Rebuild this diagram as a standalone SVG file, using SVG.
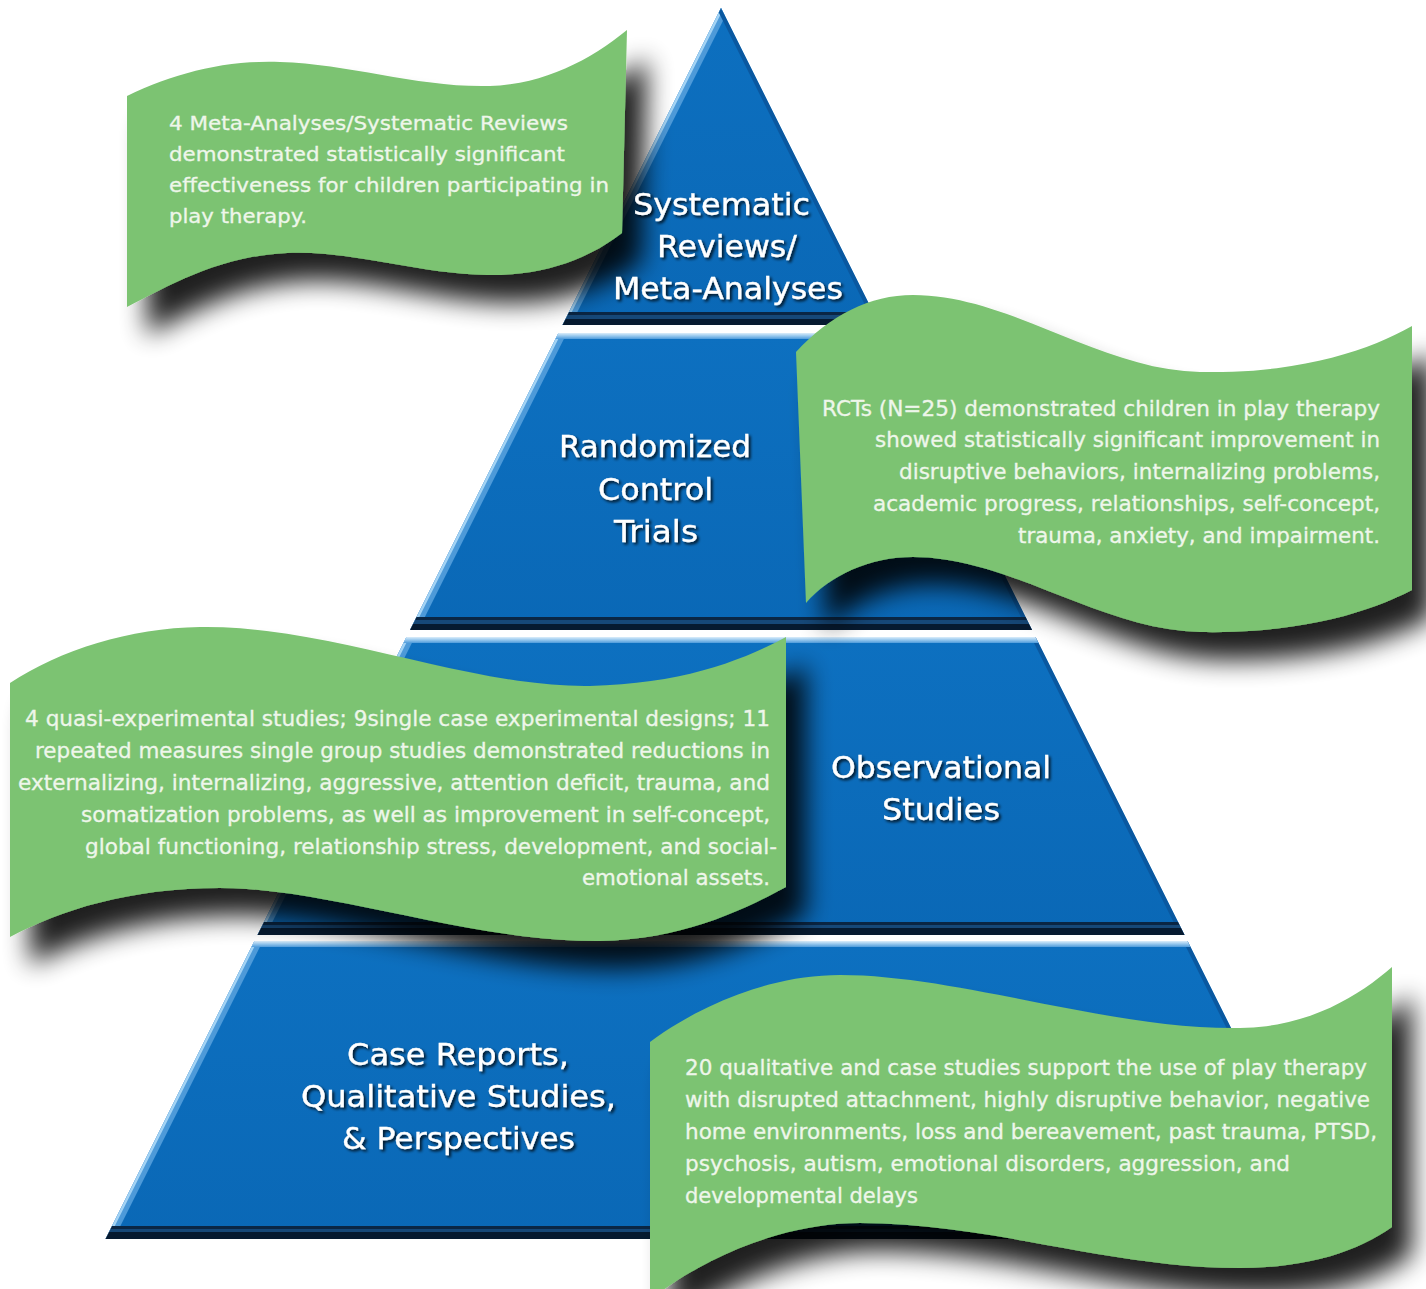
<svg xmlns="http://www.w3.org/2000/svg" xmlns:xlink="http://www.w3.org/1999/xlink" width="1426" height="1289" viewBox="0 0 1426 1289">
<style>
  .btxt { font-family: "DejaVu Sans", Verdana, "Liberation Sans", sans-serif; fill: #eef6ea; stroke: #eef6ea; stroke-width: 0.3; }
  .b1 { font-size: 19px; }
  .b2 { font-size: 20.5px; }
  .b3 { font-size: 20.5px; }
  .b4 { font-size: 20.5px; }
  .lbl { font-family: "DejaVu Sans", Verdana, "Liberation Sans", sans-serif; font-size: 31px; fill: #ffffff; stroke: #ffffff; stroke-width: 0.3; filter: url(#tshadow); }
  .banner { fill: #7cc372; }
</style>
<defs>
  <linearGradient id="blue" x1="0" y1="0" x2="0" y2="1">
    <stop offset="0" stop-color="#0d70c0"/>
    <stop offset="1" stop-color="#0a68b6"/>
  </linearGradient>
  <linearGradient id="botband" x1="0" y1="0" x2="0" y2="1">
    <stop offset="0" stop-color="#0a2644"/>
    <stop offset="0.23" stop-color="#0a2644"/>
    <stop offset="0.23" stop-color="#164878"/>
    <stop offset="0.5" stop-color="#164878"/>
    <stop offset="0.5" stop-color="#061a30"/>
    <stop offset="1" stop-color="#061a30"/>
  </linearGradient>
  <linearGradient id="topband" x1="0" y1="0" x2="0" y2="1">
    <stop offset="0" stop-color="#dcedfa"/>
    <stop offset="0.45" stop-color="#9ccbef"/>
    <stop offset="1" stop-color="#4f9bdb"/>
  </linearGradient>
  <clipPath id="c1"><polygon points="721,8 879.5,325 562.5,325"/></clipPath>
  <clipPath id="c2"><polygon points="558.5,333 883.5,333 1032,630 410,630"/></clipPath>
  <clipPath id="c3"><polygon points="406.5,637 1035.5,637 1184.5,935 257.5,935"/></clipPath>
  <clipPath id="c4"><polygon points="254.5,941 1187.5,941 1336.5,1239 105.5,1239"/></clipPath>
  <g id="edges">
    <line x1="723" y1="4" x2="100" y2="1250" stroke="#4d9ad9" stroke-width="15"/>
    <line x1="723" y1="4" x2="100" y2="1250" stroke="#a3d3f5" stroke-width="5"/>
    <line x1="719" y1="4" x2="1342" y2="1250" stroke="#0a58a0" stroke-width="8"/>
  </g>
  <filter id="ds" x="-20%" y="-30%" width="150%" height="170%">
    <feGaussianBlur in="SourceAlpha" stdDeviation="13"/>
    <feOffset dx="20" dy="28" result="b"/>
    <feComponentTransfer><feFuncA type="linear" slope="0.88"/></feComponentTransfer>
    <feMerge><feMergeNode/><feMergeNode in="SourceGraphic"/></feMerge>
  </filter>
  <filter id="tshadow" x="-10%" y="-30%" width="130%" height="170%">
    <feGaussianBlur in="SourceAlpha" stdDeviation="1.6"/>
    <feOffset dx="2" dy="2"/>
    <feComponentTransfer><feFuncA type="linear" slope="0.85"/></feComponentTransfer>
    <feMerge><feMergeNode/><feMergeNode in="SourceGraphic"/></feMerge>
  </filter>
</defs>
<rect width="1426" height="1289" fill="#ffffff"/>

<g id="pyramid">
  <g id="tier-1">
    <g clip-path="url(#c1)">
      <rect x="0" y="0" width="1426" height="325" fill="url(#blue)"/>
      <use xlink:href="#edges"/>
      <rect x="0" y="312" width="1426" height="13" fill="url(#botband)"/>
    </g>
  </g>
  <g id="tier-2">
    <g clip-path="url(#c2)">
      <rect x="0" y="333" width="1426" height="297" fill="url(#blue)"/>
      <use xlink:href="#edges"/>
      <rect x="0" y="333" width="1426" height="6" fill="url(#topband)"/>
      <rect x="0" y="617" width="1426" height="13" fill="url(#botband)"/>
    </g>
  </g>
  <g id="tier-3">
    <g clip-path="url(#c3)">
      <rect x="0" y="637" width="1426" height="298" fill="url(#blue)"/>
      <use xlink:href="#edges"/>
      <rect x="0" y="637" width="1426" height="6" fill="url(#topband)"/>
      <rect x="0" y="922" width="1426" height="13" fill="url(#botband)"/>
    </g>
  </g>
  <g id="tier-4">
    <g clip-path="url(#c4)">
      <rect x="0" y="941" width="1426" height="298" fill="url(#blue)"/>
      <use xlink:href="#edges"/>
      <rect x="0" y="941" width="1426" height="6" fill="url(#topband)"/>
      <rect x="0" y="1226" width="1426" height="13" fill="url(#botband)"/>
    </g>
  </g>
</g>

<g id="banner-1">
  <path class="banner" filter="url(#ds)" d="M127,96 C175,73 225,60 280,62 C350,64 420,88 490,86 C545,84 590,60 627,30 L622,233 C590,258 545,276 487,275 C420,274 350,250 287,253 C220,256 170,285 127,307 Z"/>
  <text class="btxt b1" x="169" y="130" textLength="399" lengthAdjust="spacingAndGlyphs">4 Meta-Analyses/Systematic Reviews</text>
  <text class="btxt b1" x="169" y="161" textLength="396" lengthAdjust="spacingAndGlyphs">demonstrated statistically significant</text>
  <text class="btxt b1" x="169" y="192" textLength="440" lengthAdjust="spacingAndGlyphs">effectiveness for children participating in</text>
  <text class="btxt b1" x="169" y="223" textLength="138" lengthAdjust="spacingAndGlyphs">play therapy.</text>
</g>

<g id="banner-2">
  <path class="banner" filter="url(#ds)" d="M796,352 C830,315 870,295 913,295 C1010,295 1100,370 1200,372 C1300,374 1370,350 1412,326 L1412,590 C1370,612 1300,634 1200,632 C1100,630 1010,557 913,557 C870,557 830,575 806,603 Z"/>
  <text class="btxt b2" x="822" y="416" textLength="558" lengthAdjust="spacingAndGlyphs">RCTs (N=25) demonstrated children in play therapy</text>
  <text class="btxt b2" x="875" y="447" textLength="505" lengthAdjust="spacingAndGlyphs">showed statistically significant improvement in</text>
  <text class="btxt b2" x="899" y="479" textLength="481" lengthAdjust="spacingAndGlyphs">disruptive behaviors, internalizing problems,</text>
  <text class="btxt b2" x="873" y="511" textLength="507" lengthAdjust="spacingAndGlyphs">academic progress, relationships, self-concept,</text>
  <text class="btxt b2" x="1018" y="543" textLength="362" lengthAdjust="spacingAndGlyphs">trauma, anxiety, and impairment.</text>
</g>

<g id="banner-3">
  <path class="banner" filter="url(#ds)" d="M10,683 C60,650 130,628 200,627 C330,625 470,688 590,686 C680,684 740,662 786,637 L786,887 C740,912 680,940 600,941 C470,942 330,888 220,888 C130,888 60,910 10,937 Z"/>
  <text class="btxt b3" x="25" y="726" textLength="745" lengthAdjust="spacingAndGlyphs">4 quasi-experimental studies; 9single case experimental designs; 11</text>
  <text class="btxt b3" x="35" y="758" textLength="735" lengthAdjust="spacingAndGlyphs">repeated measures single group studies demonstrated reductions in</text>
  <text class="btxt b3" x="18" y="790" textLength="752" lengthAdjust="spacingAndGlyphs">externalizing, internalizing, aggressive, attention deficit, trauma, and</text>
  <text class="btxt b3" x="81" y="822" textLength="689" lengthAdjust="spacingAndGlyphs">somatization problems, as well as improvement in self-concept,</text>
  <text class="btxt b3" x="85" y="854" textLength="692" lengthAdjust="spacingAndGlyphs">global functioning, relationship stress, development, and social-</text>
  <text class="btxt b3" x="582" y="885" textLength="188" lengthAdjust="spacingAndGlyphs">emotional assets.</text>
</g>

<g id="banner-4">
  <path class="banner" filter="url(#ds)" d="M650,1042 C700,1005 770,975 840,975 C960,975 1110,1030 1240,1028 C1310,1027 1360,995 1392,967 L1392,1227 C1360,1250 1310,1268 1240,1268 C1110,1268 990,1223 860,1223 C780,1223 700,1260 650,1300 Z"/>
  <text class="btxt b4" x="685" y="1075" textLength="682" lengthAdjust="spacingAndGlyphs">20 qualitative and case studies support the use of play therapy</text>
  <text class="btxt b4" x="685" y="1107" textLength="685" lengthAdjust="spacingAndGlyphs">with disrupted attachment, highly disruptive behavior, negative</text>
  <text class="btxt b4" x="685" y="1139" textLength="692" lengthAdjust="spacingAndGlyphs">home environments, loss and bereavement, past trauma, PTSD,</text>
  <text class="btxt b4" x="685" y="1171" textLength="605" lengthAdjust="spacingAndGlyphs">psychosis, autism, emotional disorders, aggression, and</text>
  <text class="btxt b4" x="685" y="1203" textLength="233" lengthAdjust="spacingAndGlyphs">developmental delays</text>
</g>

<g id="labels">
  <g id="label-tier-1">
    <text class="lbl" x="633" y="215" textLength="177" lengthAdjust="spacingAndGlyphs">Systematic</text>
    <text class="lbl" x="657" y="257" textLength="140" lengthAdjust="spacingAndGlyphs">Reviews/</text>
    <text class="lbl" x="613" y="299" textLength="230" lengthAdjust="spacingAndGlyphs">Meta-Analyses</text>
  </g>
  <g id="label-tier-2">
    <text class="lbl" x="559" y="457" textLength="192" lengthAdjust="spacingAndGlyphs">Randomized</text>
    <text class="lbl" x="598" y="500" textLength="115" lengthAdjust="spacingAndGlyphs">Control</text>
    <text class="lbl" x="614" y="542" textLength="84" lengthAdjust="spacingAndGlyphs">Trials</text>
  </g>
  <g id="label-tier-3">
    <text class="lbl" x="831" y="778" textLength="220" lengthAdjust="spacingAndGlyphs">Observational</text>
    <text class="lbl" x="882" y="820" textLength="118" lengthAdjust="spacingAndGlyphs">Studies</text>
  </g>
  <g id="label-tier-4">
    <text class="lbl" x="347" y="1065" textLength="222" lengthAdjust="spacingAndGlyphs">Case Reports,</text>
    <text class="lbl" x="301" y="1107" textLength="315" lengthAdjust="spacingAndGlyphs">Qualitative Studies,</text>
    <text class="lbl" x="342" y="1149" textLength="233" lengthAdjust="spacingAndGlyphs">&amp; Perspectives</text>
  </g>
</g>
<g id="connectors"/>
</svg>
